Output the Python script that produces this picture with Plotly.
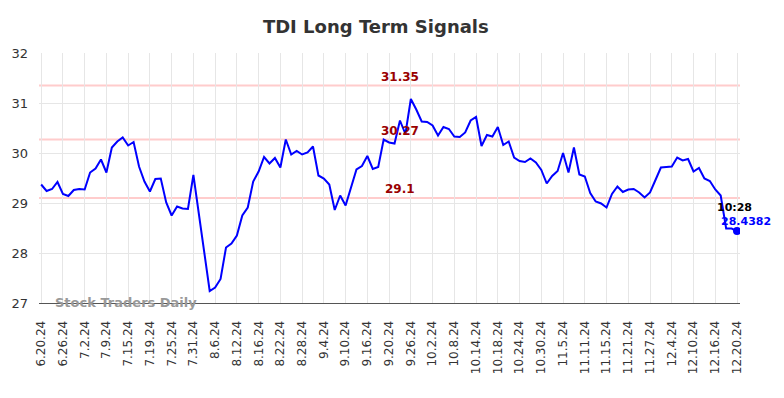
import pandas as pd
import plotly.graph_objects as go

# ---- data ----
holidays = ["2024-07-04", "2024-09-02", "2024-11-28"]
trade_days = [d for d in pd.bdate_range("2024-06-20", "2024-12-20")
              if d.strftime("%Y-%m-%d") not in holidays]
dates = [f"{d.month}.{d.day}.{d.strftime('%y')}" for d in trade_days]

values = [
    29.37, 29.24, 29.28, 29.42, 29.18, 29.14, 29.26, 29.28, 29.27, 29.61,
    29.69, 29.87, 29.61, 30.11, 30.23, 30.31, 30.15, 30.22, 29.73, 29.43,
    29.23, 29.48, 29.49, 29.01, 28.75, 28.93, 28.89, 28.88, 29.56, 28.81,
    28.02, 27.24, 27.31, 27.48, 28.11, 28.19, 28.35, 28.75, 28.91, 29.43,
    29.63, 29.92, 29.79, 29.90, 29.71, 30.27, 29.97, 30.04, 29.97, 30.01,
    30.13, 29.55, 29.49, 29.37, 28.86, 29.15, 28.95, 29.33, 29.67, 29.74,
    29.94, 29.68, 29.72, 30.27, 30.21, 30.19, 30.65, 30.38, 31.08, 30.87,
    30.63, 30.62, 30.55, 30.35, 30.52, 30.48, 30.33, 30.32, 30.41, 30.65,
    30.72, 30.14, 30.36, 30.33, 30.52, 30.16, 30.23, 29.91, 29.84, 29.82,
    29.89, 29.81, 29.66, 29.39, 29.54, 29.64, 30.00, 29.61, 30.11, 29.57,
    29.53, 29.20, 29.03, 28.99, 28.91, 29.18, 29.33, 29.22, 29.27, 29.28,
    29.21, 29.11, 29.21, 29.46, 29.71, 29.72, 29.73, 29.91, 29.85, 29.88,
    29.63, 29.70, 29.49, 29.44, 29.27, 29.15, 28.49, 28.49, 28.4382,
]

signal_levels = [31.35, 30.27, 29.1]
signal_labels = ["31.35", "30.27", "29.1"]
last_time = "10:28"
last_value = 28.4382

tick_labels = dates[::4]
y_ticks = [27, 28, 29, 30, 31, 32]

# ---- figure ----
fig = go.Figure()

for lvl in signal_levels:
    fig.add_hline(y=lvl, line=dict(color="#ffcccc", width=2), layer="below")

fig.add_trace(go.Scatter(
    x=dates, y=values, mode="lines",
    line=dict(color="#0000ff", width=2), hoverinfo="skip", showlegend=False,
))
fig.add_trace(go.Scatter(
    x=[dates[-1]], y=[last_value], mode="markers",
    marker=dict(color="#0000ff", size=8), hoverinfo="skip", showlegend=False,
))

for lvl, lab in zip(signal_levels, signal_labels):
    fig.add_annotation(
        x=0.515, xref="paper", y=lvl, yref="y", text=f"<b>{lab}</b>",
        showarrow=False, xanchor="center", yanchor="bottom", yshift=0,
        font=dict(family="DejaVu Sans", size=12, color="#990000"),
    )

fig.add_annotation(
    x=dates[-1], xref="x", y=last_value, yref="y", text=f"<b>{last_time}</b>",
    showarrow=False, xanchor="center", yanchor="middle", yshift=24, xshift=-3,
    font=dict(family="DejaVu Sans", size=11, color="#000000"),
)
fig.add_annotation(
    x=dates[-1], xref="x", y=last_value, yref="y", text=f"<b>{last_value}</b>",
    showarrow=False, xanchor="center", yanchor="middle", yshift=10, xshift=9,
    font=dict(family="DejaVu Sans", size=11, color="#0000ff"),
)

fig.add_annotation(
    x=0.124, xref="paper", y=27, yref="y", text="<b>Stock Traders Daily</b>",
    showarrow=False, xanchor="center", yanchor="middle", yshift=1,
    font=dict(family="DejaVu Sans", size=13, color="#999999"),
)

fig.update_layout(
    width=776, height=390,
    margin=dict(l=31, r=44, t=45, b=95, autoexpand=False),
    paper_bgcolor="white", plot_bgcolor="white",
    title=dict(text="<b>TDI Long Term Signals</b>", x=0.474, xanchor="center",
               y=0.951, yanchor="middle",
               font=dict(family="DejaVu Sans", size=18, color="#333333")),
    font=dict(family="DejaVu Sans", color="#333333"),
    showlegend=False,
)
fig.update_xaxes(
    type="category", range=[-0.4, len(dates) - 1 + 0.55],
    tickmode="array", tickvals=tick_labels, ticktext=tick_labels,
    tickangle=-90, tickfont=dict(size=12, color="#333333"),
    showgrid=True, gridcolor="#e6e6e6", gridwidth=1,
    showline=True, linecolor="#555555", linewidth=1,
    ticks="", ticklabelstandoff=12, zeroline=False, automargin=False,
)
fig.update_yaxes(
    range=[27, 32], tickvals=y_ticks,
    tickfont=dict(size=13, color="#333333"),
    showgrid=True, gridcolor="#e6e6e6", gridwidth=1,
    ticks="", ticklabelstandoff=10, zeroline=False, showline=False,
    automargin=False,
)

fig.write_html("out.html")
